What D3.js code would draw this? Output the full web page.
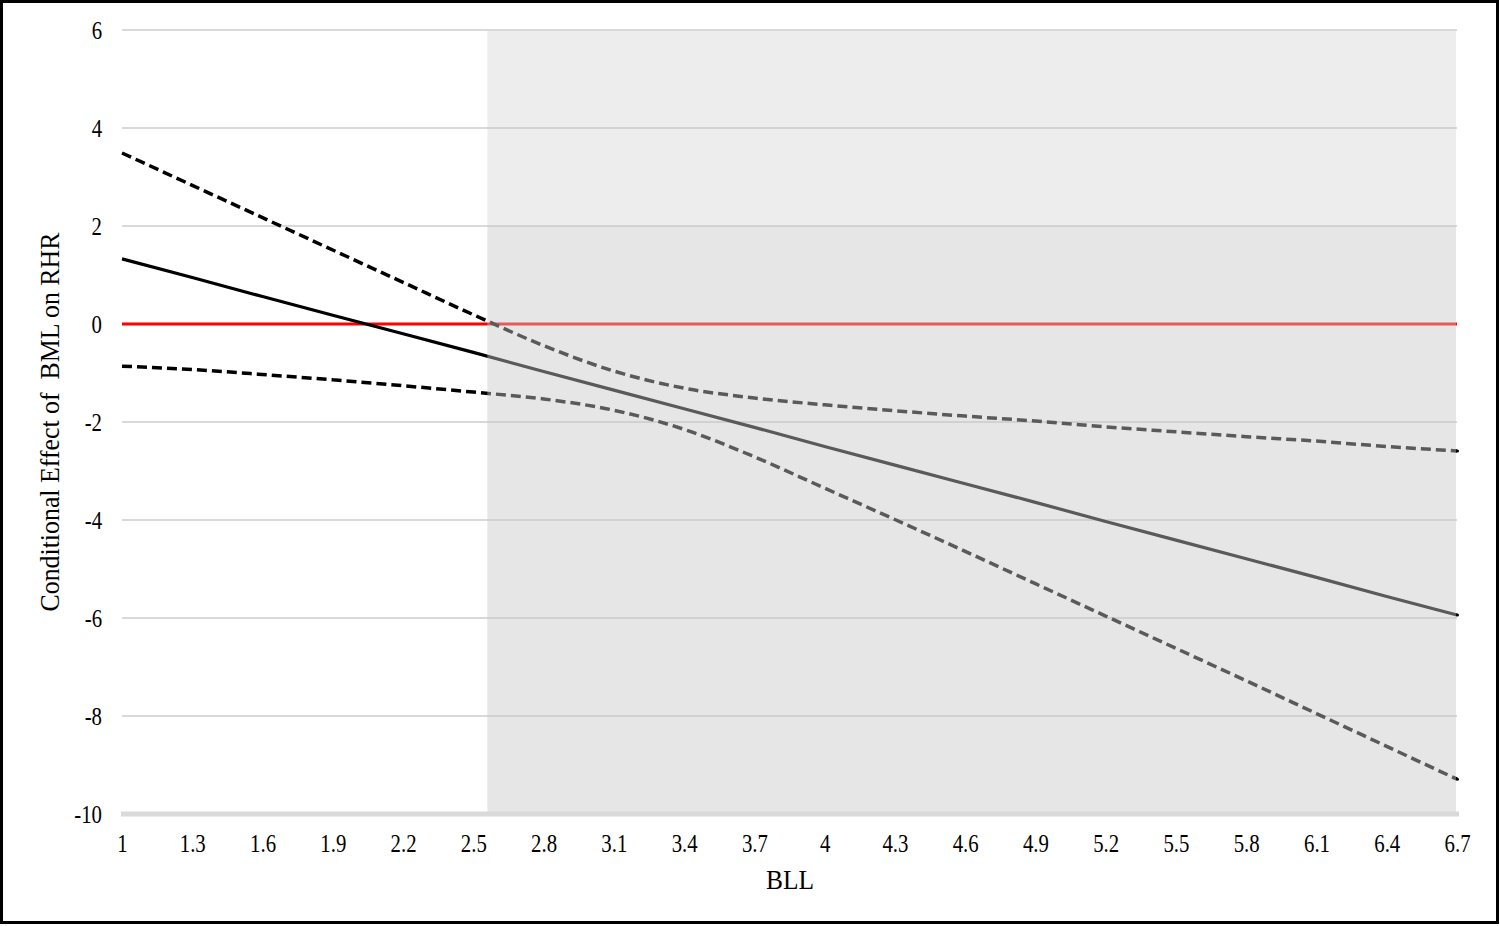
<!DOCTYPE html>
<html>
<head>
<meta charset="utf-8">
<script src="https://cdn.jsdelivr.net/npm/d3@7"></script>
<style>
  html, body { margin: 0; padding: 0; background: #fff; }
  svg text { font-family: "Liberation Serif", "Times New Roman", serif; fill: #000; }
  .tick text { transform-box: fill-box; transform: scaleX(0.8); }
  .x-axis .tick text { transform-origin: center; }
  .y-axis .tick text { transform-origin: right center; }
</style>
</head>
<body>
<svg id="chart" width="1500" height="926"></svg>
<script>
// BLL values (x) and tick labels
const bll = [1, 1.3, 1.6, 1.9, 2.2, 2.5, 2.8, 3.1, 3.4, 3.7, 4, 4.3, 4.6, 4.9, 5.2, 5.5, 5.8, 6.1, 6.4, 6.7];
const yTicks = [-10, -8, -6, -4, -2, 0, 2, 4, 6];

// conditional effect of BML on RHR, with upper / lower confidence bounds
const effect = [1.33, 0.95, 0.56, 0.18, -0.20, -0.58, -0.97, -1.35, -1.73, -2.11, -2.50, -2.88, -3.26, -3.64, -4.03, -4.41, -4.79, -5.17, -5.56, -5.94];
const upperCI = [3.49, 2.83, 2.17, 1.51, 0.85, 0.19, -0.44, -0.96, -1.31, -1.51, -1.65, -1.77, -1.88, -1.98, -2.10, -2.20, -2.30, -2.39, -2.50, -2.59];
const lowerCI = [-0.86, -0.93, -1.03, -1.14, -1.26, -1.39, -1.53, -1.76, -2.15, -2.71, -3.35, -3.99, -4.64, -5.30, -5.96, -6.62, -7.28, -7.95, -8.62, -9.29];

// Johnson-Neyman region of significance
const jnStart = 2.56;
const jnEnd = 6.7;
const bandSplit = 2;

const svg = d3.select("#chart");
const plotLeft = 122, plotRight = 1457, plotTop = 30, plotBottom = 814;

const x = d3.scaleLinear().domain([1, 6.7]).range([plotLeft, plotRight]);
const y = d3.scaleLinear().domain([-10, 6]).range([plotBottom, plotTop]);

// frame
svg.append("rect")
  .attr("x", 1.5).attr("y", 1.5)
  .attr("width", 1496).attr("height", 921)
  .attr("fill", "#fff").attr("stroke", "#000").attr("stroke-width", 3);

// gridlines
svg.append("g")
  .selectAll("line")
  .data(yTicks.filter(d => d > -10))
  .enter()
  .append("line")
  .attr("x1", x(1)).attr("x2", x(6.7))
  .attr("y1", d => y(d)).attr("y2", d => y(d))
  .attr("stroke", "#d9d9d9").attr("stroke-width", 2);

// zero reference line
svg.append("line")
  .attr("x1", x(1)).attr("x2", x(6.7))
  .attr("y1", y(0)).attr("y2", y(0))
  .attr("stroke", "#ff0000").attr("stroke-width", 3);

const rows = bll.map((b, i) => ({ b, e: effect[i], u: upperCI[i], l: lowerCI[i] }));

const lineEff = d3.line().x(d => x(d.b)).y(d => y(d.e));
const lineUp = d3.line().x(d => x(d.b)).y(d => y(d.u)).curve(d3.curveMonotoneX);
const lineLo = d3.line().x(d => x(d.b)).y(d => y(d.l)).curve(d3.curveMonotoneX);

svg.append("path").datum(rows).attr("d", lineEff)
  .attr("fill", "none").attr("stroke", "#000").attr("stroke-width", 3.2);
svg.append("path").datum(rows).attr("d", lineUp)
  .attr("fill", "none").attr("stroke", "#000").attr("stroke-width", 3.5)
  .attr("stroke-dasharray", "10,5");
svg.append("path").datum(rows).attr("d", lineLo)
  .attr("fill", "none").attr("stroke", "#000").attr("stroke-width", 3.5)
  .attr("stroke-dasharray", "10,5");

// shaded overlay (semi-transparent)
svg.append("rect")
  .attr("x", x(jnStart)).attr("y", y(6) + 1)
  .attr("width", x(jnEnd) - x(jnStart) - 1)
  .attr("height", y(bandSplit) - y(6) - 1)
  .attr("fill", "rgb(200,200,200)").attr("fill-opacity", 0.33);
svg.append("rect")
  .attr("x", x(jnStart)).attr("y", y(bandSplit))
  .attr("width", x(jnEnd) - x(jnStart) - 1)
  .attr("height", y(-10) - y(bandSplit) - 2)
  .attr("fill", "rgb(200,200,200)").attr("fill-opacity", 0.45);

// end markers
const last = rows[rows.length - 1];
svg.append("g")
  .selectAll("circle")
  .data([last.e, last.u, last.l])
  .enter()
  .append("circle")
  .attr("cx", x(last.b) + 0.5)
  .attr("cy", d => y(d))
  .attr("r", 1.5)
  .attr("fill", "#000");

// bottom axis line
svg.append("line")
  .attr("x1", x(1) - 1).attr("x2", x(6.7) + 2)
  .attr("y1", y(-10)).attr("y2", y(-10))
  .attr("stroke", "#dadada").attr("stroke-width", 5);

// axes
const xAxis = svg.append("g")
  .attr("class", "x-axis")
  .attr("transform", `translate(0,${plotBottom})`)
  .call(d3.axisBottom(x).tickValues(bll).tickFormat(d => String(d)).tickSize(0).tickPadding(20));
xAxis.select(".domain").remove();

const yAxis = svg.append("g")
  .attr("class", "y-axis")
  .attr("transform", `translate(${plotLeft},0)`)
  .call(d3.axisLeft(y).tickValues(yTicks).tickFormat(d => String(d)).tickSize(0).tickPadding(20));
yAxis.select(".domain").remove();

svg.selectAll(".tick text")
  .attr("font-family", null)
  .attr("font-size", 26)
  .attr("fill", "#000");

// axis titles
svg.append("text")
  .attr("x", 790).attr("y", 889)
  .attr("text-anchor", "middle")
  .attr("font-size", 27)
  .attr("textLength", 48)
  .attr("lengthAdjust", "spacingAndGlyphs")
  .text("BLL");

svg.append("text")
  .attr("transform", "translate(59,422) rotate(-90)")
  .attr("text-anchor", "middle")
  .attr("font-size", 27)
  .attr("textLength", 379)
  .attr("lengthAdjust", "spacingAndGlyphs")
  .style("white-space", "pre")
  .text("Conditional Effect of  BML on RHR");
</script>
</body>
</html>
